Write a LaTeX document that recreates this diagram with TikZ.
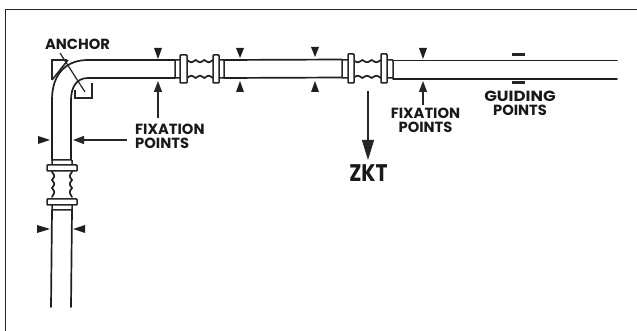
\documentclass[tikz,border=0pt]{standalone}
\usepackage{fontspec}
\setmainfont{Poppins}
\usetikzlibrary{arrows.meta}
\tikzset{
  pipe/.style={line width=1.7pt,line cap=round,black!88},
  lbl/.style={font=\bfseries\fontsize{14.7}{14}\selectfont,text=black!90,inner sep=0pt,align=center},
  ptr/.style={line width=1.2pt,black!85,-{Triangle[length=11pt,width=8pt]},shorten >=0pt},
  fix/.style={fill=black!88,draw=none},
  framel/.style={line width=1.9pt,black!85},
  guide/.style={line width=3pt,black!85},
  flange/.style={line width=1.5pt,black!85,fill=white,rounded corners=0.8pt}
}
\newcommand{\downmark}[3]{\fill[fix] (#1-4,#2) -- (#1+4,#2) -- (#1,#3) -- cycle;}
\newcommand{\hbellows}[4]{% x0 x1 ytop ybottom
  \draw[pipe] (#1,#3) .. controls ({#1+(#2-#1)/6},{#3+3}) .. ({#1+(#2-#1)/3},#3) .. controls ({#1+(#2-#1)/2},{#3+3}) .. ({#1+2*(#2-#1)/3},#3) .. controls ({#1+5*(#2-#1)/6},{#3+3}) .. (#2,#3);
  \draw[pipe] (#1,#4) .. controls ({#1+(#2-#1)/6},{#4-3}) .. ({#1+(#2-#1)/3},#4) .. controls ({#1+(#2-#1)/2},{#4-3}) .. ({#1+2*(#2-#1)/3},#4) .. controls ({#1+5*(#2-#1)/6},{#4-3}) .. (#2,#4);}
\begin{document}
\begin{tikzpicture}[x=1pt,y=-1pt]
\useasboundingbox (0,0) rectangle (637,331);
% frame
\draw[framel] (5.5,331) -- (5.5,9.5) -- (637,9.5);
% anchor plates
\draw[line width=1.4pt,black!85] (67,60) -- (52,60) -- (52,80);
\draw[line width=1.5pt,black!85] (52,80) -- (68,60);
\draw[line width=1.5pt,black!85] (92,83) -- (92,98) -- (75,98) -- (75,90);
% pipe
\draw[pipe] (52,160) -- (52,100) .. controls (52,74) and (66,60) .. (88,60) -- (175,60);
\draw[pipe] (71,160) -- (71,100) .. controls (71,88) and (76,78) .. (88,78) -- (175,78);
\draw[pipe] (224,60) -- (342,59.5);
\draw[pipe] (224,78) -- (342,77.5);
\draw[pipe] (393,60.5) -- (617,60.5);
\draw[pipe] (393,79) -- (617,79);
\draw[pipe] (52,210) -- (51,307);
\draw[pipe] (72,210) -- (71,307);
% horizontal compensator 1
\draw[flange] (175,60) rectangle (224,78);
\draw[white,fill=white] (187,58) rectangle (213,80);
\hbellows{187}{213}{60}{78}
\draw[flange] (180,55) rectangle (187,83);
\draw[flange] (213,55) rectangle (219,83);
% horizontal compensator 2
\draw[flange] (342,60) rectangle (393,78);
\draw[white,fill=white] (353,58) rectangle (381,80);
\hbellows{353}{381}{60}{78}
\draw[flange] (348,54) rectangle (354,83);
\draw[flange] (381,54) rectangle (387,83);
% vertical compensator
\draw[flange] (52,160) rectangle (72,210);
\draw[white,fill=white] (50,172) rectangle (74,197);
\draw[pipe] (52,172) .. controls (55,176) .. (52,180) .. controls (55,184) .. (52,188) .. controls (55,192) .. (52,197);
\draw[pipe] (72,172) .. controls (69,176) .. (72,180) .. controls (69,184) .. (72,188) .. controls (69,192) .. (72,197);
\draw[flange] (47,165) rectangle (77,171);
\draw[flange] (47,199) rectangle (77,205);
% text
\node[lbl] (anchor) at (77.5,44.5) {ANCHOR};
\node[lbl,align=left,anchor=north west] (fixa) at (135,124) {FIXATION\\POINTS};
\node[lbl] (fixb) at (425.5,120.5) {FIXATION\\POINTS};
\node[lbl] (guid) at (520,103.5) {\scalebox{1.13}[1]{GUIDING}\\POINTS};
\node[inner sep=0pt,font=\bfseries\fontsize{24}{24}\selectfont,text=black!90] (zkt) at (368.5,173.5) {\scalebox{0.85}[1]{ZKT}};
% anchor leader
\coordinate (anchorend) at (85,92);
\coordinate (anchorstart) at (60,53);
\draw[line width=1.2pt,black!85] (anchorstart) -- (anchorend);
% coordinates
\coordinate (t1) at (158,81);
\coordinate (t4) at (423,81);
\coordinate (t5) at (73,140);
\coordinate (ztip) at (368,160);
\draw[ptr] (158,118) -- (t1);
\draw[ptr] (fixb.north -| t4) ++(0,-3) -- (t4);
\draw[ptr] (fixa.west |- t5) ++(-8,0) -- (t5);
\draw[line width=1.3pt,black!85,-{Triangle[length=20pt,width=12pt]}] (368,91) -- (ztip);
% fixation marks
\downmark{158}{48}{59}
\downmark{240}{48}{58}
\downmark{315}{47}{57}
\downmark{423}{48}{59}
\fill[fix] (236,92) -- (244,92) -- (240,81) -- cycle;
\fill[fix] (311,92) -- (319,92) -- (315,81) -- cycle;
\fill[fix] (38,136) -- (38,144) -- (50,140) -- cycle;
\fill[fix] (37,225) -- (37,233) -- (50,229) -- cycle;
\fill[fix] (85,225) -- (85,233) -- (73,229) -- cycle;
% guiding marks
\draw[guide] (512,55) -- (525,55);
\draw[guide] (512,82.5) -- (525,82.5);
\end{tikzpicture}
\end{document}
